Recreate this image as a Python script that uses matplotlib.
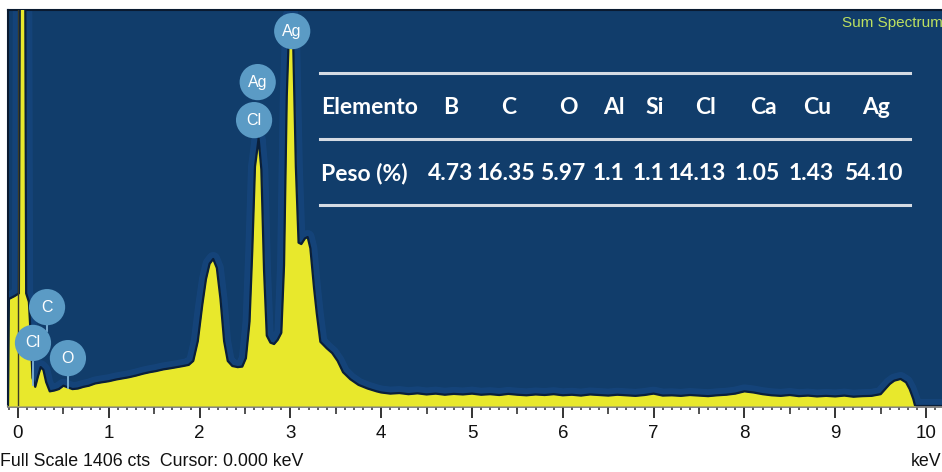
import matplotlib
matplotlib.use('Agg')
import matplotlib.pyplot as plt
import matplotlib.transforms as mtransforms
from matplotlib.lines import Line2D
from matplotlib.ticker import MultipleLocator

# ---------------- data ----------------
energy_kev = [-0.11, -0.10, -0.04, 0.01, 0.02, 0.08, 0.09, 0.12, 0.14, 0.16,
              0.19, 0.22, 0.25, 0.28, 0.31, 0.35, 0.40, 0.45, 0.50, 0.55,
              0.60, 0.66, 0.72, 0.78, 0.85, 0.92, 1.00, 1.08, 1.15, 1.22,
              1.30, 1.38, 1.45, 1.52, 1.60, 1.68, 1.75, 1.82, 1.88, 1.93,
              1.98, 2.03, 2.07, 2.11, 2.15, 2.19, 2.23, 2.27, 2.31, 2.36,
              2.42, 2.47, 2.51, 2.55, 2.58, 2.61, 2.65, 2.68, 2.71, 2.74,
              2.78, 2.82, 2.86, 2.90, 2.93, 2.96, 2.99, 3.01, 3.03, 3.06,
              3.09, 3.12, 3.16, 3.19, 3.22, 3.26, 3.29, 3.33, 3.40, 3.46,
              3.52, 3.58, 3.66, 3.75, 3.85, 3.95,
              4.0, 4.1, 4.2, 4.3, 4.4, 4.5, 4.6, 4.7, 4.8, 4.9,
              5.0, 5.1, 5.2, 5.3, 5.4, 5.5, 5.6, 5.7, 5.8, 5.9,
              6.0, 6.1, 6.2, 6.3, 6.4, 6.5, 6.6, 6.7, 6.8, 6.9,
              7.0, 7.1, 7.2, 7.3, 7.4, 7.5, 7.6, 7.7, 7.8, 7.9,
              8.0, 8.1, 8.2, 8.3, 8.4, 8.5, 8.6, 8.7, 8.8, 8.9,
              9.0, 9.1, 9.2, 9.3, 9.4,
              9.50, 9.55, 9.60, 9.65, 9.72, 9.78, 9.82, 9.86, 9.88, 10.2]

counts = [0, 380, 390, 400, 1500, 1500, 400, 370, 250, 100,
          68, 105, 138, 128, 85, 52, 55, 60, 72, 66,
          60, 62, 68, 72, 80, 84, 88, 94, 98, 102,
          108, 115, 120, 124, 130, 134, 138, 142, 146, 160,
          230, 360, 450, 505, 522, 490, 380, 230, 160, 142,
          138, 140, 170, 300, 550, 850, 950, 840, 480, 250,
          225, 220, 235, 260, 500, 1100, 1385, 1392, 1300, 850,
          580, 575, 595, 600, 560, 420, 330, 228, 205, 188,
          160, 120, 95, 75, 62, 52,
          48, 44, 46, 42, 45, 41, 44, 40, 43, 41,
          44, 40, 42, 39, 43, 40, 38, 41, 39, 42,
          38, 40, 37, 41, 39, 37, 40, 38, 36, 39,
          44, 37, 38, 36, 39, 37, 35, 38, 40, 44,
          52, 48, 42, 38, 36, 39, 35, 37, 34, 36,
          34, 37, 33, 35, 36,
          42, 60, 78, 90, 96, 84, 60, 25, 0, 0]

full_scale_cts = 1406
cursor_kev = 0.0
x_ticks = [0, 1, 2, 3, 4, 5, 6, 7, 8, 9, 10]

peak_labels = ['Ag', 'Ag', 'Cl', 'C', 'Cl', 'O']
peak_label_kev = [3.02, 2.64, 2.60, 0.32, 0.165, 0.55]
peak_label_cts = [1331, 1150, 1015, 351, 224, 170]
stem_bottom_cts = [None, None, None, 266, 75, 64]

table_header = 'Elemento'
table_row = 'Peso (%)'
table_elements = ['B', 'C', 'O', 'Al', 'Si', 'Cl', 'Ca', 'Cu', 'Ag']
table_weights = ['4.73', '16.35', '5.97', '1.1', '1.1', '14.13', '1.05', '1.43', '54.10']

# ---------------- style ----------------
W, H = 942, 472
BG = '#113d6b'
YELLOW = '#e8e82c'
BUBBLE = '#5b9bc5'

def fx(x):
    return x / W

def fy(y):
    return 1 - y / H

fig = plt.figure(figsize=(W / 100, H / 100), dpi=100)
fig.patch.set_facecolor('white')
ax = fig.add_axes([fx(8), fy(406), (W - 8) / W, (406 - 10) / H])
ax.set_facecolor(BG)
ax.set_xlim(-0.11, 10.176)
ax.set_ylim(0, full_scale_cts)

# halo + spectrum
ax.plot(energy_kev, counts, color='#1f56a0', lw=10, alpha=0.28, zorder=2,
        solid_joinstyle='round')
ax.fill_between(energy_kev, counts, 0, color=YELLOW, lw=0, zorder=3)
ax.plot(energy_kev, counts, color='#0a1f3a', lw=1.6, zorder=4)
ax.axvline(cursor_kev, color='#3a3a28', lw=1.0, zorder=5)

# peak label bubbles
for lab, ek, ck, sb in zip(peak_labels, peak_label_kev, peak_label_cts, stem_bottom_cts):
    if sb is not None:
        ax.plot([ek, ek], [sb, ck], color='#7fb3d8', lw=1.3, zorder=6)
    ax.scatter([ek], [ck], s=680, color=BUBBLE, edgecolors='none', zorder=7)
    ax.text(ek, ck, lab, color='white', ha='center', va='center',
            fontsize=11.5, family='Liberation Sans', zorder=8)

# axes styling
ax.spines['right'].set_visible(False)
ax.spines['top'].set_color('#0a1a30')
ax.spines['left'].set_color('#0a1a30')
ax.spines['top'].set_linewidth(1.5)
ax.spines['left'].set_linewidth(1.5)
ax.spines['bottom'].set_color('#7a7a7a')
ax.spines['bottom'].set_linewidth(2)
ax.set_yticks([])
ax.set_xticks(x_ticks)
ax.set_xticklabels([str(t) for t in x_ticks], family='Liberation Sans', fontsize=13.5,
                   color='#111111')
ax.xaxis.set_minor_locator(MultipleLocator(0.1))
ax.tick_params(axis='x', which='major', length=8.5, width=1.4, color='#333333', pad=5)
ax.tick_params(axis='x', which='minor', length=3, width=1.2, color='#444444')
trans = mtransforms.blended_transform_factory(ax.transData, ax.transAxes)
mid_ticks = [t + 0.5 for t in x_ticks[:-1]]
ax.plot(mid_ticks, [0] * len(mid_ticks), ls='none', marker=3, ms=5.5, mew=1.3,
        color='#444444', transform=trans, clip_on=False)

# texts
fig.text(fx(0), fy(462), f'Full Scale {full_scale_cts} cts  Cursor: {cursor_kev:.3f} keV',
         ha='left', va='center', fontsize=12.8, family='Liberation Sans', color='#111111')
fig.text(fx(941), fy(462), 'keV', ha='right', va='center', fontsize=12.8,
         family='Liberation Sans', color='#111111')
fig.text(fx(943), fy(23), 'Sum Spectrum', ha='right', va='center', fontsize=11,
         family='Liberation Sans', color='#bde060')

# table
for yy in [72.5, 139, 205]:
    fig.add_artist(Line2D([fx(320), fx(910)], [fy(yy), fy(yy)], color='#d5dbe3', lw=2.2))
col_x = [451, 509, 568, 614, 655, 706, 763, 817, 876]
val_x = [451, 506, 563, 608, 648, 697, 757, 811, 873]
tkw = dict(color='white', fontsize=16.5, family='Lato', weight='bold', va='center')
fig.text(fx(321), fy(107), table_header, ha='left', **tkw)
fig.text(fx(321), fy(173), table_row, ha='left', **tkw)
for el, x in zip(table_elements, col_x):
    fig.text(fx(x), fy(107), el, ha='center', **tkw)
for v, x in zip(table_weights, val_x):
    fig.text(fx(x), fy(173), v, ha='center', **tkw)

fig.savefig('out.png', dpi=100, facecolor='white')
